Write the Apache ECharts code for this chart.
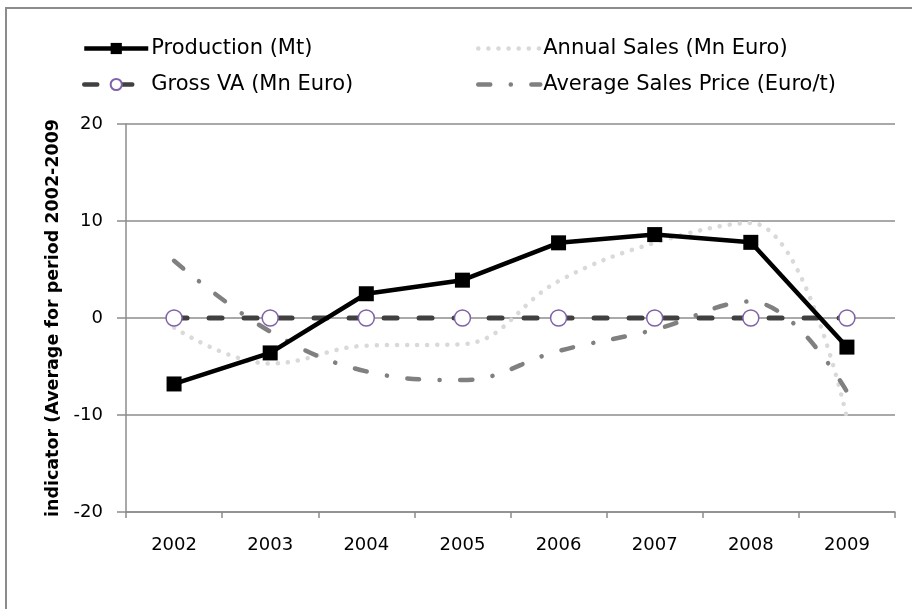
<!DOCTYPE html>
<html>
<head>
<meta charset="utf-8">
<script src="https://cdn.jsdelivr.net/npm/echarts@6/dist/echarts.min.js"></script>
<style>
  html, body { margin: 0; padding: 0; background: #fff; }
  #chart { width: 912px; height: 609px; }
</style>
</head>
<body>
<div id="chart"></div>
<script>
// 연도 및 지표 데이터 (2002-2009 평균 대비)
var years = ['2002', '2003', '2004', '2005', '2006', '2007', '2008', '2009'];
var production = [-6.8, -3.6, 2.5, 3.9, 7.75, 8.6, 7.8, -3.0];
var annualSales = [-1.0, -4.7, -2.85, -2.7, 3.8, 7.75, 9.8, -10.3];
var grossVA = [0, 0, 0, 0, 0, 0, 0, 0];
var avgPrice = [5.9, -1.4, -5.5, -6.4, -3.4, -1.2, 1.7, -7.6];
var yTicks = [-20, -10, 0, 10, 20];

var FONT = '"DejaVu Sans", sans-serif';

var chart = echarts.init(document.getElementById('chart'));

// 범례 항목을 하나씩 원하는 위치에 배치
function legendAt(item, left, top, w) {
    return {
        data: [item],
        left: left,
        top: top,
        itemWidth: w,
        itemHeight: 14,
        itemGap: 0,
        padding: 0,
        lineStyle: { width: 4.5 },
        textStyle: {
            fontFamily: FONT,
            fontSize: 21,
            color: '#000',
            padding: [0, 0, 0, -2]
        }
    };
}

var option = {
    animation: false,
    backgroundColor: '#fff',
    graphic: [{
        type: 'rect',
        shape: { x: 6, y: 8, width: 940, height: 640 },
        style: { fill: 'none', stroke: '#8c8c8c', lineWidth: 2 },
        silent: true
    }],
    legend: [
        legendAt('Production (Mt)', 82, 38, 64),
        legendAt({ name: 'Annual Sales (Mn Euro)', itemStyle: { opacity: 0 } }, 476, 38, 62),
        legendAt('Gross VA (Mn Euro)', 82, 74, 64),
        legendAt({ name: 'Average Sales Price (Euro/t)', itemStyle: { opacity: 0 } }, 476, 74, 62)
    ],
    grid: {
        left: 126,
        right: 17,
        top: 124,
        bottom: 97
    },
    xAxis: [{
        type: 'category',
        data: years,
        boundaryGap: true,
        axisLine: { show: false },
        axisTick: { show: false },
        axisLabel: {
            fontFamily: FONT,
            fontSize: 18,
            color: '#000',
            margin: 24
        }
    }, {
        type: 'category',
        data: years,
        position: 'bottom',
        boundaryGap: true,
        axisLine: { onZero: true, lineStyle: { color: '#8c8c8c', width: 1.5 } },
        axisTick: { show: true, length: 6, lineStyle: { color: '#8c8c8c', width: 1.5 } },
        axisLabel: { show: false }
    }],
    yAxis: {
        type: 'value',
        min: yTicks[0],
        max: yTicks[yTicks.length - 1],
        interval: 10,
        name: 'indicator (Average for period 2002-2009',
        nameLocation: 'middle',
        nameGap: 25,
        nameTextStyle: {
            fontFamily: FONT,
            fontSize: 17.5,
            fontWeight: 'bold',
            color: '#000'
        },
        axisLine: { show: true, lineStyle: { color: '#8c8c8c', width: 1.5 } },
        axisTick: { show: true, length: 9, lineStyle: { color: '#8c8c8c', width: 1.5 } },
        axisLabel: {
            fontFamily: FONT,
            fontSize: 18,
            color: '#000',
            margin: 23
        },
        splitLine: { lineStyle: { color: '#8c8c8c', width: 1.5 } }
    },
    series: [{
        name: 'Production (Mt)',
        type: 'line',
        data: production,
        z: 5,
        symbol: 'rect',
        symbolSize: 15,
        itemStyle: { color: '#000' },
        lineStyle: { color: '#000', width: 4.5 }
    }, {
        name: 'Annual Sales (Mn Euro)',
        type: 'line',
        data: annualSales,
        z: 2,
        smooth: 0.4,
        showSymbol: false,
        symbol: 'none',
        itemStyle: { color: '#d9d9d9' },
        lineStyle: { color: '#d9d9d9', width: 4.5, type: [0.1, 10], cap: 'round' }
    }, {
        name: 'Gross VA (Mn Euro)',
        type: 'line',
        data: grossVA,
        z: 4,
        symbol: 'circle',
        symbolSize: 16,
        itemStyle: { color: '#fff', borderColor: '#7f62a8', borderWidth: 1.5 },
        lineStyle: { color: '#404040', width: 5, type: [13, 22], cap: 'round' }
    }, {
        name: 'Average Sales Price (Euro/t)',
        type: 'line',
        data: avgPrice,
        z: 3,
        smooth: 0.4,
        showSymbol: false,
        symbol: 'none',
        itemStyle: { color: '#808080' },
        lineStyle: { color: '#808080', width: 4.5, type: [12, 20.5, 0.1, 20.5], cap: 'round' }
    }]
};

chart.setOption(option);
</script>
</body>
</html>
